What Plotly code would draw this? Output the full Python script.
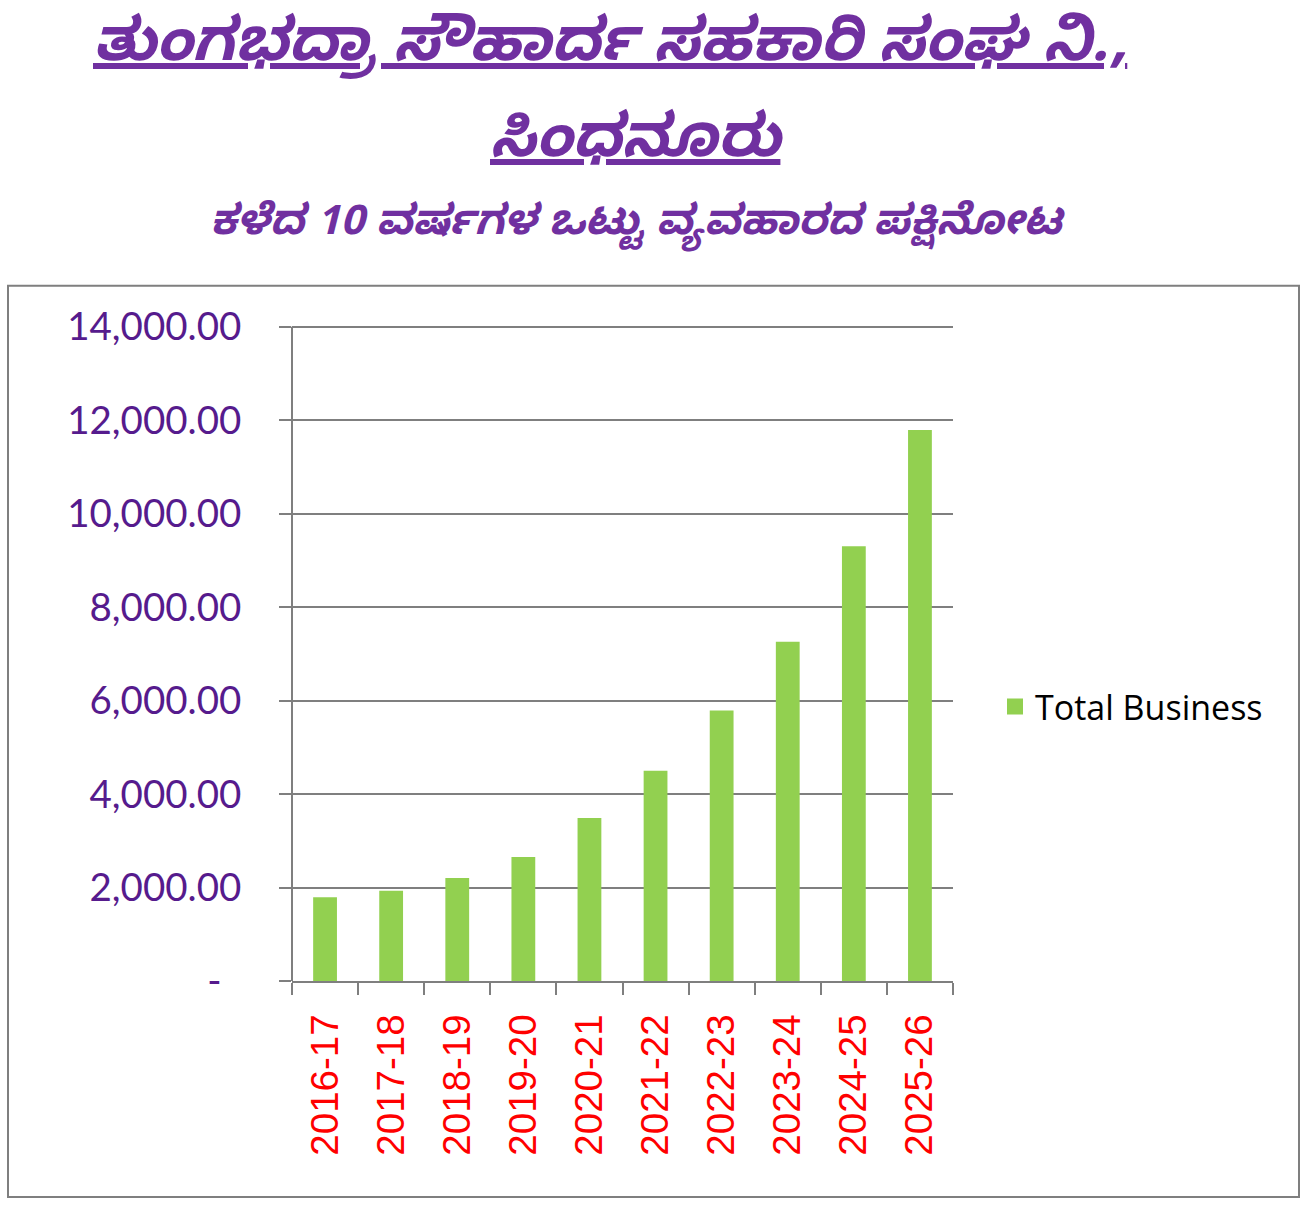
import plotly.graph_objects as go

# ---- data ----
years = ["2016-17", "2017-18", "2018-19", "2019-20", "2020-21",
         "2021-22", "2022-23", "2023-24", "2024-25", "2025-26"]
total_business = [1790, 1930, 2205, 2655, 3490, 4500, 5790, 7260, 9300, 11790]
series_name = "Total Business"
y_tickvals = [0, 2000, 4000, 6000, 8000, 10000, 12000, 14000]
y_ticktext = ["-\u00a0\u00a0", "2,000.00", "4,000.00", "6,000.00",
              "8,000.00", "10,000.00", "12,000.00", "14,000.00"]
title_line1 = "ತುಂಗಭದ್ರಾ ಸೌಹಾರ್ದ ಸಹಕಾರಿ ಸಂಘ ನಿ.,"
title_line2 = "ಸಿಂಧನೂರು"
subtitle = "ಕಳೆದ 10 ವರ್ಷಗಳ ಒಟ್ಟು ವ್ಯವಹಾರದ ಪಕ್ಷಿನೋಟ"

# ---- layout constants (pixels) ----
W, H = 1306, 1205
Y_TOP_TICK = 14000
Y_MAX = 14100            # a little headroom so the top gridline is drawn
PL, PR, PB = 292, 953, 981
TOP_TICK_PX = 327
PT = PB - (PB - TOP_TICK_PX) * Y_MAX / Y_TOP_TICK
pw, ph = PR - PL, PB - PT

def px(x):
    return (x - PL) / pw

def py(y):
    return (PB - y) / ph

GREEN = "#92D050"
PURPLE = "#7030A0"
TICKPURPLE = "#561B8D"
GRID = "#7F7F7F"
KFONT = "Noto Sans Kannada, Noto Sans, DejaVu Sans, sans-serif"

fig = go.Figure()
fig.add_trace(go.Bar(x=years, y=total_business, marker=dict(color=GREEN, line=dict(width=0)),
                     name=series_name, showlegend=False))
fig.add_trace(go.Scatter(x=[None], y=[None], mode="markers", name=series_name,
                         marker=dict(symbol="square", size=22, color=GREEN)))

fig.update_layout(
    width=W, height=H,
    margin=dict(l=PL, r=W - PR, t=PT, b=H - PB, pad=0),
    paper_bgcolor="white", plot_bgcolor="white",
    bargap=0.64,
    showlegend=True,
    legend=dict(x=px(995), y=py(707), xanchor="left", yanchor="middle",
                font=dict(family="Open Sans, Lato, sans-serif", size=34, color="black"),
                bgcolor="rgba(0,0,0,0)", itemwidth=30),
    xaxis=dict(type="category", tickangle=-90, showgrid=False,
               showline=True, linecolor=GRID, linewidth=2,
               ticks="outside", ticklen=12, tickcolor=GRID, tickwidth=2,
               tickson="boundaries",
               tickfont=dict(family="Liberation Sans, Arial, sans-serif", size=38.5, color="#FF0000"),
               ticklabelstandoff=16, fixedrange=True),
    yaxis=dict(range=[0, Y_MAX], tickvals=y_tickvals, ticktext=y_ticktext,
               showgrid=True, gridcolor=GRID, gridwidth=2,
               showline=False,
               ticks="outside", ticklen=12, tickcolor=GRID, tickwidth=2,
               tickfont=dict(family="Lato, Open Sans, sans-serif", size=38.5, color=TICKPURPLE),
               ticklabelstandoff=30, zeroline=False, fixedrange=True),
)

# vertical axis line only up to the top tick
fig.add_shape(type="line", xref="paper", yref="y", x0=0, x1=0, y0=0, y1=Y_TOP_TICK,
              line=dict(color=GRID, width=2), layer="above")

# outer frame around chart
fig.add_shape(type="rect", xref="paper", yref="paper",
              x0=px(8), x1=px(1299), y0=py(1197), y1=py(286),
              line=dict(color=GRID, width=2), fillcolor="rgba(0,0,0,0)", layer="below")

# titles
fig.add_annotation(text="<b><i><u>" + title_line1 + "</u></i></b>", xref="paper", yref="paper",
                   x=px(610), y=py(52), xanchor="center", yanchor="middle", showarrow=False,
                   font=dict(family=KFONT, size=60, color=PURPLE))
fig.add_annotation(text="<b><i><u>" + title_line2 + "</u></i></b>", xref="paper", yref="paper",
                   x=px(637), y=py(148), xanchor="center", yanchor="middle", showarrow=False,
                   font=dict(family=KFONT, size=60, color=PURPLE))
fig.add_annotation(text="<b><i>" + subtitle + "</i></b>", xref="paper", yref="paper",
                   x=px(637), y=py(229), xanchor="center", yanchor="middle", showarrow=False,
                   font=dict(family=KFONT, size=42, color=PURPLE))

fig.write_html("out.html")
